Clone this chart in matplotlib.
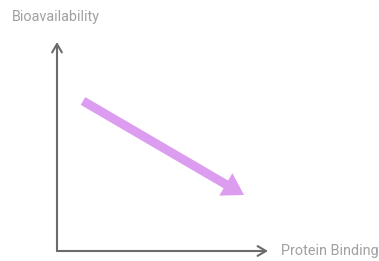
import matplotlib
matplotlib.use("Agg")
import matplotlib.pyplot as plt
from matplotlib.patches import FancyArrow

W, H = 379, 261
# axis geometry (pixel-like coordinates)
origin = [57, 251]
y_axis_top = [57, 42]
x_axis_end = [268, 251]
# trend arrow
trend_start = [83, 101]
trend_end = [244, 195]
x_label = "Protein Binding"
y_label = "Bioavailability"

fig = plt.figure(figsize=(W / 100, H / 100), dpi=100)
ax = fig.add_axes([0, 0, 1, 1])
ax.set_xlim(0, W)
ax.set_ylim(H, 0)
ax.axis("off")

axis_color = "#6b6b6b"
ax.annotate("", xy=y_axis_top, xytext=origin,
            arrowprops=dict(arrowstyle="->,head_length=0.6,head_width=0.35",
                            color=axis_color, lw=1.5, shrinkA=0, shrinkB=0))
ax.annotate("", xy=x_axis_end, xytext=origin,
            arrowprops=dict(arrowstyle="->,head_length=0.6,head_width=0.35",
                            color=axis_color, lw=1.5, shrinkA=0, shrinkB=0))

dx = trend_end[0] - trend_start[0]
dy = trend_end[1] - trend_start[1]
ax.add_patch(FancyArrow(trend_start[0], trend_start[1], dx, dy,
                        width=9, head_width=26, head_length=21,
                        length_includes_head=True, color="#dc9cf0", lw=0))

ax.text(12, 17, y_label, fontsize=10.4, color="#a0a0a0", family="Roboto",
        va="center", ha="left")
ax.text(281, 251, x_label, fontsize=10.4, color="#a0a0a0", family="Roboto",
        va="center", ha="left")

fig.savefig("out.png", dpi=100)
